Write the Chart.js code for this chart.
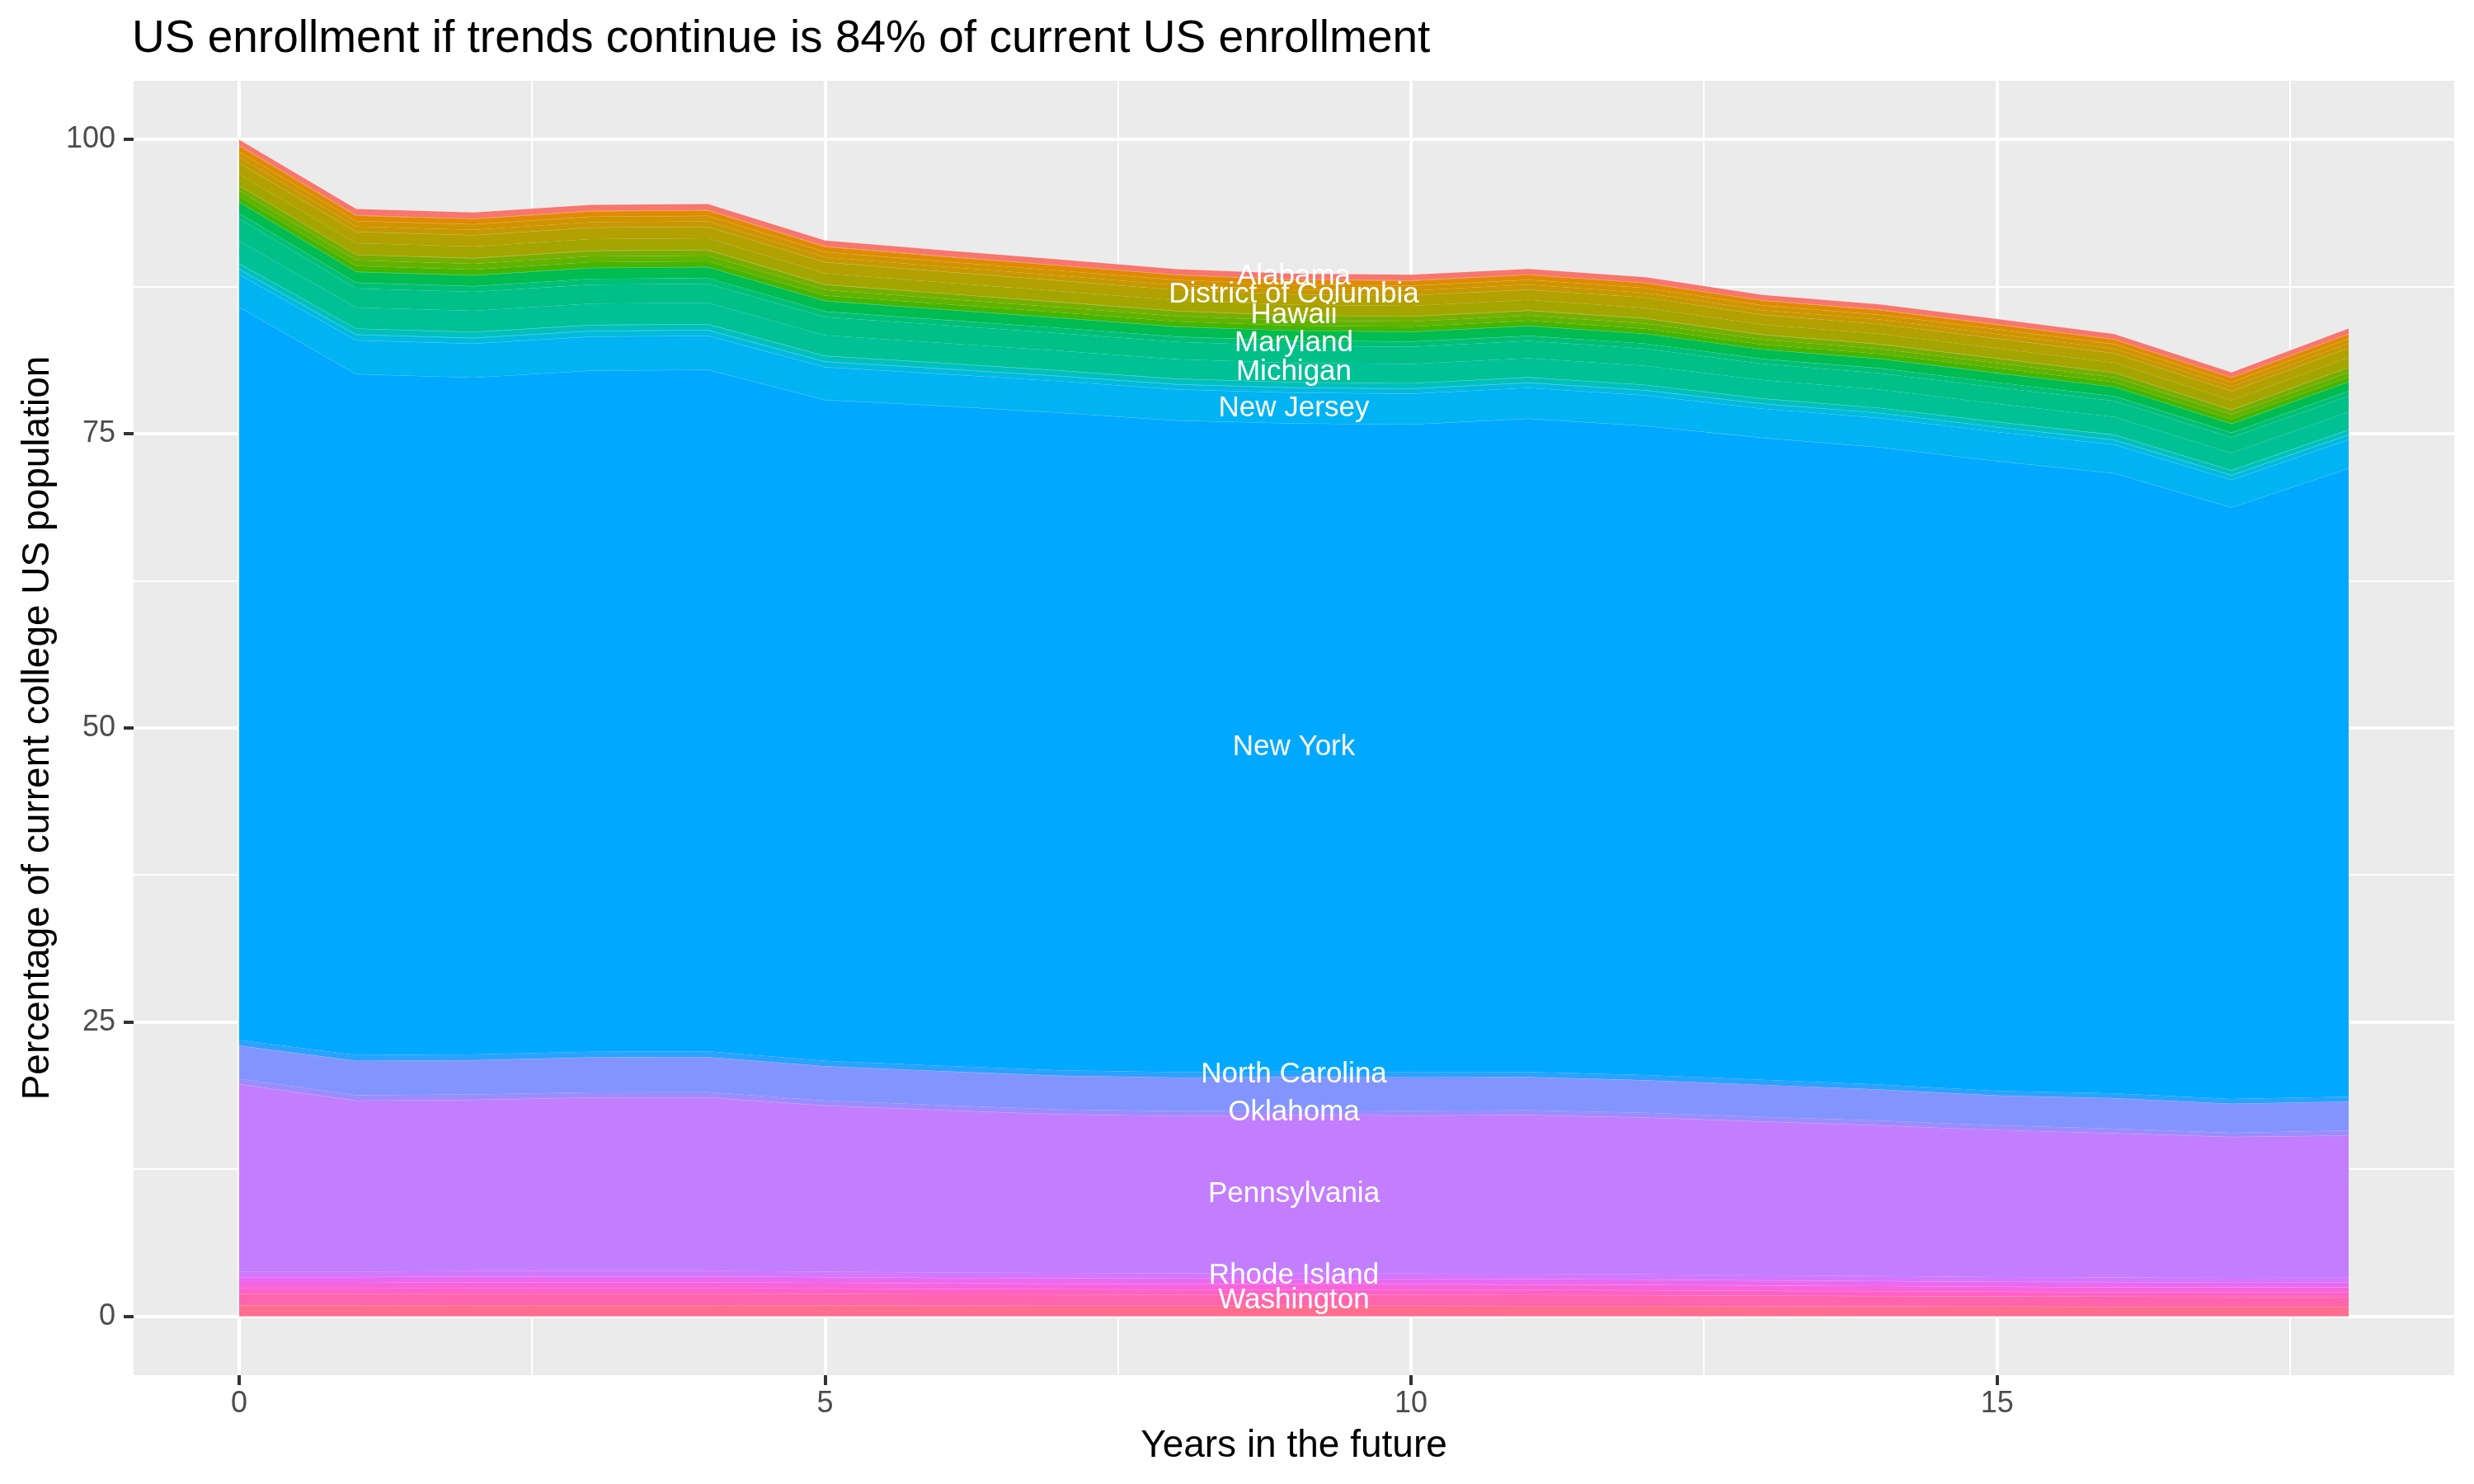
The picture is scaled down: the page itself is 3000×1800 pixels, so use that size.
<!DOCTYPE html>
<html>
<head>
<meta charset="utf-8">
<title>US enrollment if trends continue</title>
<script src="https://cdn.jsdelivr.net/npm/chart.js@4.4.1/dist/chart.umd.min.js"></script>
<style>
  html, body { margin: 0; padding: 0; background: #ffffff; }
  #chart { display: block; }
</style>
</head>
<body>
<canvas id="chart" width="3000" height="1800"></canvas>
<script>
const years = [0, 1, 2, 3, 4, 5, 6, 7, 8, 9, 10, 11, 12, 13, 14, 15, 16, 17, 18];

// percentage of current college population, one array per state (alphabetical)
const alabama = [0.48, 0.52, 0.52, 0.52, 0.52, 0.50, 0.49, 0.48, 0.47, 0.47, 0.47, 0.47, 0.47, 0.45, 0.45, 0.44, 0.44, 0.42, 0.44];
const alaska = [0.015, 0.015, 0.015, 0.015, 0.015, 0.015, 0.015, 0.015, 0.015, 0.015, 0.015, 0.015, 0.015, 0.015, 0.015, 0.015, 0.015, 0.015, 0.015];
const arizona = [0.015, 0.015, 0.015, 0.015, 0.015, 0.015, 0.015, 0.015, 0.015, 0.015, 0.015, 0.015, 0.015, 0.015, 0.015, 0.015, 0.015, 0.015, 0.015];
const arkansas = [0.015, 0.015, 0.015, 0.015, 0.015, 0.015, 0.015, 0.015, 0.015, 0.015, 0.015, 0.015, 0.015, 0.015, 0.015, 0.015, 0.015, 0.015, 0.015];
const california = [0.50, 0.44, 0.44, 0.44, 0.44, 0.42, 0.41, 0.41, 0.40, 0.40, 0.40, 0.40, 0.39, 0.38, 0.38, 0.38, 0.37, 0.36, 0.37];
const colorado = [0.015, 0.015, 0.015, 0.015, 0.015, 0.015, 0.015, 0.015, 0.015, 0.015, 0.015, 0.015, 0.015, 0.015, 0.015, 0.015, 0.015, 0.015, 0.015];
const connecticut = [0.43, 0.46, 0.46, 0.46, 0.46, 0.44, 0.43, 0.42, 0.42, 0.41, 0.41, 0.41, 0.41, 0.40, 0.40, 0.39, 0.38, 0.37, 0.39];
const delaware = [0.51, 0.45, 0.45, 0.45, 0.45, 0.43, 0.42, 0.42, 0.41, 0.41, 0.41, 0.41, 0.40, 0.39, 0.39, 0.38, 0.38, 0.37, 0.38];
const districtOfColumbia = [0.015, 0.015, 0.015, 0.015, 0.015, 0.015, 0.015, 0.015, 0.015, 0.015, 0.015, 0.015, 0.015, 0.015, 0.015, 0.015, 0.015, 0.015, 0.015];
const florida = [0.93, 0.95, 0.95, 0.96, 0.96, 0.92, 0.90, 0.89, 0.87, 0.87, 0.87, 0.87, 0.86, 0.82, 0.82, 0.82, 0.80, 0.78, 0.81];
const georgia = [0.98, 0.98, 0.98, 0.99, 0.99, 0.95, 0.93, 0.91, 0.90, 0.89, 0.89, 0.89, 0.89, 0.85, 0.85, 0.85, 0.83, 0.80, 0.83];
const hawaii = [0.015, 0.015, 0.015, 0.015, 0.015, 0.015, 0.015, 0.015, 0.015, 0.015, 0.015, 0.015, 0.015, 0.015, 0.015, 0.015, 0.015, 0.015, 0.015];
const idaho = [0.015, 0.015, 0.015, 0.015, 0.015, 0.015, 0.015, 0.015, 0.015, 0.015, 0.015, 0.015, 0.015, 0.015, 0.015, 0.015, 0.015, 0.015, 0.015];
const illinois = [0.42, 0.46, 0.46, 0.46, 0.46, 0.44, 0.43, 0.42, 0.42, 0.41, 0.41, 0.41, 0.41, 0.40, 0.40, 0.39, 0.38, 0.37, 0.39];
const indiana = [0.47, 0.49, 0.49, 0.49, 0.49, 0.47, 0.46, 0.45, 0.45, 0.44, 0.44, 0.44, 0.44, 0.42, 0.42, 0.42, 0.41, 0.40, 0.41];
const iowa = [0.46, 0.47, 0.47, 0.47, 0.47, 0.45, 0.44, 0.43, 0.43, 0.42, 0.42, 0.42, 0.42, 0.40, 0.40, 0.40, 0.39, 0.38, 0.39];
const kansas = [0.015, 0.015, 0.015, 0.015, 0.015, 0.015, 0.015, 0.015, 0.015, 0.015, 0.015, 0.015, 0.015, 0.015, 0.015, 0.015, 0.015, 0.015, 0.015];
const kentucky = [0.015, 0.015, 0.015, 0.015, 0.015, 0.015, 0.015, 0.015, 0.015, 0.015, 0.015, 0.015, 0.015, 0.015, 0.015, 0.015, 0.015, 0.015, 0.015];
const louisiana = [0.94, 0.90, 0.90, 0.91, 0.91, 0.88, 0.85, 0.84, 0.83, 0.82, 0.82, 0.82, 0.81, 0.78, 0.78, 0.78, 0.76, 0.74, 0.76];
const maine = [0.015, 0.015, 0.015, 0.015, 0.015, 0.015, 0.015, 0.015, 0.015, 0.015, 0.015, 0.015, 0.015, 0.015, 0.015, 0.015, 0.015, 0.015, 0.015];
const maryland = [0.42, 0.48, 0.48, 0.48, 0.48, 0.46, 0.45, 0.44, 0.44, 0.43, 0.43, 0.43, 0.43, 0.41, 0.41, 0.41, 0.40, 0.39, 0.40];
const massachusetts = [1.91, 1.61, 1.61, 1.62, 1.62, 1.56, 1.52, 1.50, 1.47, 1.46, 1.46, 1.46, 1.45, 1.39, 1.39, 1.38, 1.36, 1.32, 1.36];
const michigan = [1.92, 1.79, 1.79, 1.80, 1.80, 1.73, 1.69, 1.66, 1.64, 1.62, 1.62, 1.62, 1.61, 1.55, 1.55, 1.54, 1.51, 1.46, 1.51];
const minnesota = [0.015, 0.015, 0.015, 0.015, 0.015, 0.015, 0.015, 0.015, 0.015, 0.015, 0.015, 0.015, 0.015, 0.015, 0.015, 0.015, 0.015, 0.015, 0.015];
const mississippi = [0.015, 0.015, 0.015, 0.015, 0.015, 0.015, 0.015, 0.015, 0.015, 0.015, 0.015, 0.015, 0.015, 0.015, 0.015, 0.015, 0.015, 0.015, 0.015];
const missouri = [0.46, 0.48, 0.48, 0.48, 0.48, 0.46, 0.45, 0.44, 0.44, 0.43, 0.43, 0.43, 0.43, 0.41, 0.41, 0.41, 0.40, 0.39, 0.40];
const montana = [0.015, 0.015, 0.015, 0.015, 0.015, 0.015, 0.015, 0.015, 0.015, 0.015, 0.015, 0.015, 0.015, 0.015, 0.015, 0.015, 0.015, 0.015, 0.015];
const nebraska = [0.015, 0.015, 0.015, 0.015, 0.015, 0.015, 0.015, 0.015, 0.015, 0.015, 0.015, 0.015, 0.015, 0.015, 0.015, 0.015, 0.015, 0.015, 0.015];
const nevada = [0.42, 0.46, 0.46, 0.46, 0.46, 0.44, 0.43, 0.42, 0.42, 0.41, 0.41, 0.41, 0.41, 0.40, 0.40, 0.39, 0.38, 0.37, 0.39];
const newHampshire = [0.015, 0.015, 0.015, 0.015, 0.015, 0.015, 0.015, 0.015, 0.015, 0.015, 0.015, 0.015, 0.015, 0.015, 0.015, 0.015, 0.015, 0.015, 0.015];
const newJersey = [2.76, 2.86, 2.86, 2.88, 2.88, 2.77, 2.70, 2.66, 2.62, 2.60, 2.60, 2.60, 2.58, 2.47, 2.47, 2.46, 2.41, 2.34, 2.42];
const newMexico = [0.015, 0.015, 0.015, 0.015, 0.015, 0.015, 0.015, 0.015, 0.015, 0.015, 0.015, 0.015, 0.015, 0.015, 0.015, 0.015, 0.015, 0.015, 0.015];
const newYork = [62.27, 57.86, 57.51, 57.86, 57.91, 56.15, 56.06, 55.87, 55.38, 55.07, 55.02, 55.52, 55.15, 54.54, 54.14, 53.51, 52.70, 50.24, 53.39];
const northCarolina = [0.47, 0.49, 0.49, 0.48, 0.48, 0.47, 0.46, 0.46, 0.45, 0.45, 0.45, 0.44, 0.44, 0.43, 0.42, 0.39, 0.40, 0.41, 0.42];
const northDakota = [0.015, 0.015, 0.015, 0.015, 0.015, 0.015, 0.015, 0.015, 0.015, 0.015, 0.015, 0.015, 0.015, 0.015, 0.015, 0.015, 0.015, 0.015, 0.015];
const ohio = [2.80, 2.91, 2.90, 2.96, 2.96, 2.90, 2.88, 2.85, 2.84, 2.83, 2.82, 2.80, 2.76, 2.70, 2.64, 2.52, 2.58, 2.45, 2.43];
const oklahoma = [0.46, 0.45, 0.45, 0.44, 0.44, 0.43, 0.42, 0.41, 0.41, 0.40, 0.40, 0.40, 0.40, 0.40, 0.40, 0.40, 0.39, 0.36, 0.42];
const oregon = [0.015, 0.015, 0.015, 0.015, 0.015, 0.015, 0.015, 0.015, 0.015, 0.015, 0.015, 0.015, 0.015, 0.015, 0.015, 0.015, 0.015, 0.015, 0.015];
const pennsylvania = [15.92, 14.52, 14.53, 14.72, 14.74, 14.09, 13.79, 13.47, 13.36, 13.45, 13.43, 13.48, 13.32, 13.06, 12.79, 12.48, 12.23, 11.97, 12.08];
const rhodeIsland = [0.46, 0.46, 0.47, 0.47, 0.47, 0.46, 0.45, 0.45, 0.44, 0.44, 0.44, 0.44, 0.43, 0.42, 0.41, 0.40, 0.40, 0.39, 0.40];
const southCarolina = [0.015, 0.015, 0.015, 0.015, 0.015, 0.015, 0.015, 0.015, 0.015, 0.015, 0.015, 0.015, 0.015, 0.015, 0.015, 0.015, 0.015, 0.015, 0.015];
const southDakota = [0.47, 0.47, 0.48, 0.48, 0.48, 0.47, 0.46, 0.45, 0.45, 0.45, 0.45, 0.45, 0.44, 0.43, 0.42, 0.41, 0.41, 0.40, 0.40];
const tennessee = [0.015, 0.015, 0.015, 0.015, 0.015, 0.015, 0.015, 0.015, 0.015, 0.015, 0.015, 0.015, 0.015, 0.015, 0.015, 0.015, 0.015, 0.015, 0.015];
const texas = [0.47, 0.47, 0.48, 0.48, 0.48, 0.47, 0.46, 0.46, 0.45, 0.45, 0.45, 0.44, 0.44, 0.43, 0.42, 0.41, 0.41, 0.40, 0.40];
const utah = [0.015, 0.015, 0.015, 0.015, 0.015, 0.015, 0.015, 0.015, 0.015, 0.015, 0.015, 0.015, 0.015, 0.015, 0.015, 0.015, 0.015, 0.015, 0.015];
const vermont = [0.44, 0.44, 0.45, 0.45, 0.45, 0.44, 0.43, 0.43, 0.42, 0.42, 0.42, 0.42, 0.41, 0.40, 0.40, 0.39, 0.38, 0.38, 0.38];
const virginia = [0.015, 0.015, 0.015, 0.015, 0.015, 0.015, 0.015, 0.015, 0.015, 0.015, 0.015, 0.015, 0.015, 0.015, 0.015, 0.015, 0.015, 0.015, 0.015];
const washington = [0.96, 0.96, 0.97, 0.97, 0.97, 0.96, 0.94, 0.93, 0.92, 0.92, 0.91, 0.91, 0.90, 0.88, 0.86, 0.84, 0.83, 0.82, 0.83];
const westVirginia = [0.015, 0.015, 0.015, 0.015, 0.015, 0.015, 0.015, 0.015, 0.015, 0.015, 0.015, 0.015, 0.015, 0.015, 0.015, 0.015, 0.015, 0.015, 0.015];
const wisconsin = [0.91, 0.91, 0.92, 0.92, 0.92, 0.91, 0.89, 0.88, 0.88, 0.87, 0.87, 0.86, 0.85, 0.83, 0.82, 0.80, 0.79, 0.78, 0.78];
const wyoming = [0.015, 0.015, 0.015, 0.015, 0.015, 0.015, 0.015, 0.015, 0.015, 0.015, 0.015, 0.015, 0.015, 0.015, 0.015, 0.015, 0.015, 0.015, 0.015];

const stateNames = [
  'Alabama', 'Alaska', 'Arizona', 'Arkansas', 'California', 'Colorado', 'Connecticut', 'Delaware',
  'District of Columbia', 'Florida', 'Georgia', 'Hawaii', 'Idaho', 'Illinois', 'Indiana', 'Iowa',
  'Kansas', 'Kentucky', 'Louisiana', 'Maine', 'Maryland', 'Massachusetts', 'Michigan', 'Minnesota',
  'Mississippi', 'Missouri', 'Montana', 'Nebraska', 'Nevada', 'New Hampshire', 'New Jersey', 'New Mexico',
  'New York', 'North Carolina', 'North Dakota', 'Ohio', 'Oklahoma', 'Oregon', 'Pennsylvania', 'Rhode Island',
  'South Carolina', 'South Dakota', 'Tennessee', 'Texas', 'Utah', 'Vermont', 'Virginia', 'Washington',
  'West Virginia', 'Wisconsin', 'Wyoming'
];
const stateValues = [
  alabama, alaska, arizona, arkansas, california, colorado, connecticut, delaware,
  districtOfColumbia, florida, georgia, hawaii, idaho, illinois, indiana, iowa,
  kansas, kentucky, louisiana, maine, maryland, massachusetts, michigan, minnesota,
  mississippi, missouri, montana, nebraska, nevada, newHampshire, newJersey, newMexico,
  newYork, northCarolina, northDakota, ohio, oklahoma, oregon, pennsylvania, rhodeIsland,
  southCarolina, southDakota, tennessee, texas, utah, vermont, virginia, washington,
  westVirginia, wisconsin, wyoming
];

const labelledStates = ['Alabama', 'District of Columbia', 'Hawaii', 'Maryland', 'Michigan', 'New Jersey',
  'New York', 'North Carolina', 'Oklahoma', 'Pennsylvania', 'Rhode Island', 'Washington'];
const labelYear = 9;

const xTicks = [0, 5, 10, 15];
const xMinorTicks = [2.5, 7.5, 12.5, 17.5];
const yTicks = [0, 25, 50, 75, 100];
const yMinorTicks = [12.5, 37.5, 62.5, 87.5];

const titleText = 'US enrollment if trends continue is 84% of current US enrollment';
const xTitle = 'Years in the future';
const yTitle = 'Percentage of current college US population';

// ggplot2 default hue palette, hcl(h, c = 100, l = 65)
function hueColour(i, n) {
  const h = ((15 + i * 360 / n) % 360) * Math.PI / 180;
  const L = 65, C = 100;
  const u = C * Math.cos(h), v = C * Math.sin(h);
  const Xn = 95.047, Yn = 100, Zn = 108.883;
  const Y = Yn * Math.pow((L + 16) / 116, 3);
  const t = Xn + 15 * Yn + 3 * Zn;
  const up = u / (13 * L) + 4 * Xn / t;
  const vp = v / (13 * L) + 9 * Yn / t;
  const X = 9 * Y * up / (4 * vp);
  const Z = -X / 3 - 5 * Y + 3 * Y / vp;
  const lin = [
    3.240479 * X - 1.537150 * Y - 0.498535 * Z,
    -0.969256 * X + 1.875992 * Y + 0.041556 * Z,
    0.055648 * X - 0.204043 * Y + 1.057311 * Z
  ];
  const rgb = lin.map(c => {
    c = c / 100;
    const g = c <= 0.0031308 ? 12.92 * c : 1.055 * Math.pow(c, 1 / 2.4) - 0.055;
    return Math.round(255 * Math.min(1, Math.max(0, g)));
  });
  return 'rgb(' + rgb.join(',') + ')';
}

// ggplot stacks the first state on top, Chart.js stacks the first dataset at the bottom
const datasets = stateNames.map((name, i) => ({
  label: name,
  data: years.map((yr, k) => ({ x: yr, y: stateValues[i][k] })),
  backgroundColor: hueColour(i, stateNames.length),
  borderColor: 'rgba(0,0,0,0)',
  borderWidth: 0,
  pointRadius: 0,
  tension: 0
})).reverse();
datasets.forEach((ds, i) => { ds.fill = i === 0 ? 'origin' : '-1'; });

const chartDecor = {
  id: 'chartDecor',
  beforeDraw(chart) {
    const { ctx, chartArea } = chart;
    ctx.save();
    ctx.fillStyle = '#EBEBEB';
    ctx.fillRect(chartArea.left, chartArea.top, chartArea.right - chartArea.left, chartArea.bottom - chartArea.top);
    ctx.restore();
  },
  afterDatasetsDraw(chart) {
    const { ctx } = chart;
    const x = chart.scales.x.getPixelForValue(labelYear);
    ctx.save();
    ctx.font = '35px "Liberation Sans", Arial, sans-serif';
    ctx.fillStyle = '#ffffff';
    ctx.textAlign = 'center';
    ctx.textBaseline = 'middle';
    for (const name of labelledStates) {
      const i = stateNames.indexOf(name);
      let below = 0;
      for (let j = i + 1; j < stateNames.length; j++) below += stateValues[j][labelYear];
      const mid = below + stateValues[i][labelYear] / 2;
      ctx.fillText(name, x, chart.scales.y.getPixelForValue(mid));
    }
    ctx.restore();
  },
  afterDraw(chart) {
    const { ctx, chartArea } = chart;
    ctx.save();
    ctx.fillStyle = '#000000';
    ctx.textBaseline = 'alphabetic';

    ctx.font = '55px "Liberation Sans", Arial, sans-serif';
    ctx.textAlign = 'left';
    ctx.fillText(titleText, chartArea.left - 2, 63);

    ctx.font = '46px "Liberation Sans", Arial, sans-serif';
    ctx.textAlign = 'center';
    ctx.fillText(xTitle, (chartArea.left + chartArea.right) / 2, 1767);

    ctx.translate(59, (chartArea.top + chartArea.bottom) / 2);
    ctx.rotate(-Math.PI / 2);
    ctx.fillText(yTitle, 0, 0);
    ctx.restore();
  }
};

function gridScale(major, minor, min, max) {
  return {
    type: 'linear',
    min: min,
    max: max,
    afterBuildTicks: scale => {
      scale.ticks = major.concat(minor).sort((a, b) => a - b).map(v => ({ value: v }));
    },
    grid: {
      color: '#ffffff',
      lineWidth: c => major.includes(c.tick.value) ? 4 : 2,
      tickColor: c => major.includes(c.tick.value) ? '#333333' : 'rgba(0,0,0,0)',
      tickLength: 12,
      tickWidth: 4,
      drawTicks: true
    },
    border: { display: false },
    ticks: {
      autoSkip: false,
      maxRotation: 0,
      color: '#4D4D4D',
      font: { family: '"Liberation Sans", Arial, sans-serif', size: 36 },
      callback: v => major.includes(v) ? String(v) : ''
    }
  };
}

const xScale = gridScale(xTicks, xMinorTicks, -0.9, 18.9);
xScale.ticks.padding = 1;
xScale.afterFit = scale => { scale.height = 132; };

const yScale = gridScale(yTicks, yMinorTicks, -5, 105);
yScale.stacked = true;
yScale.ticks.padding = 10;
yScale.afterFit = scale => { scale.width = 162; };

new Chart(document.getElementById('chart'), {
  type: 'line',
  data: { datasets: datasets },
  options: {
    responsive: false,
    devicePixelRatio: 1,
    animation: false,
    layout: { padding: { top: 98, right: 24, bottom: 0, left: 0 } },
    plugins: {
      legend: { display: false },
      tooltip: { enabled: false },
      title: { display: false }
    },
    scales: { x: xScale, y: yScale }
  },
  plugins: [chartDecor]
});
</script>
</body>
</html>
